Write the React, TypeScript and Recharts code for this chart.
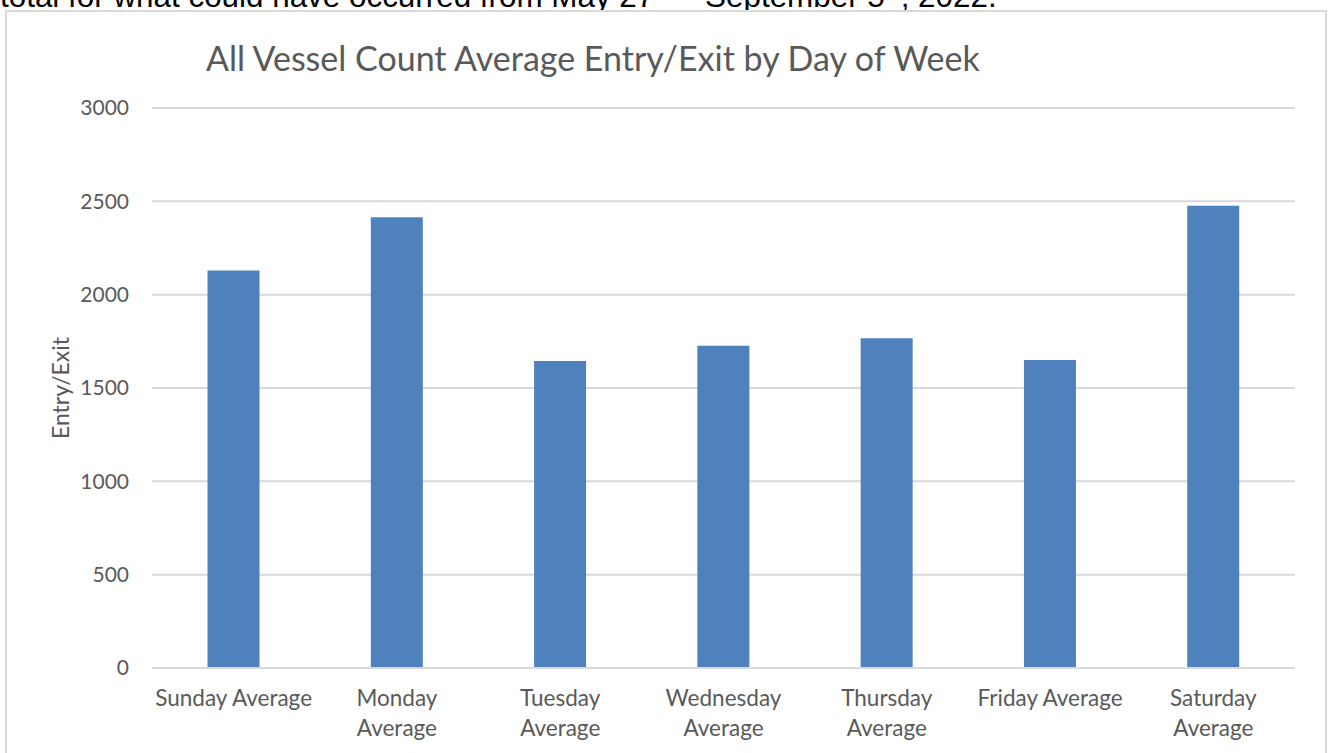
import { BarChart, Bar, XAxis, YAxis, CartesianGrid } from 'recharts'

const days = [
  'Sunday Average',
  'Monday Average',
  'Tuesday Average',
  'Wednesday Average',
  'Thursday Average',
  'Friday Average',
  'Saturday Average',
]
const entryExit = [2130, 2415, 1645, 1727, 1767, 1650, 2477]
const yTicks = [0, 500, 1000, 1500, 2000, 2500, 3000]

const data = days.map((day, i) => ({ day, value: entryExit[i] }))

const GREY = '#595959'
const FONT = 'Lato, "Open Sans", sans-serif'
const TICK_SIZE = 22.5

let probe: SVGTextElement | null = null
function textWidth(s: string) {
  if (!probe) {
    const ns = 'http://www.w3.org/2000/svg'
    const svg = document.createElementNS(ns, 'svg')
    svg.setAttribute('style', 'position:absolute;left:-9999px;top:0')
    probe = document.createElementNS(ns, 'text') as SVGTextElement
    probe.setAttribute('font-size', String(TICK_SIZE))
    probe.setAttribute('font-family', FONT)
    svg.appendChild(probe)
    document.body.appendChild(svg)
  }
  probe.textContent = s
  return probe.getComputedTextLength()
}

// Excel wraps a category label once it gets wider than the slot
function wrapLabel(s: string) {
  if (textWidth(s) <= 158) return [s]
  const i = s.lastIndexOf(' ')
  return i > 0 ? [s.slice(0, i), s.slice(i + 1)] : [s]
}

function DayTick(props: any) {
  const { x, y, payload } = props
  const lines = wrapLabel(String(payload.value))
  return (
    <text
      x={x}
      y={y}
      textAnchor="middle"
      fontSize={TICK_SIZE}
      fontFamily={FONT}
      fill={GREY}
    >
      {lines.map((l, i) => (
        <tspan key={i} x={x} dy={i === 0 ? 16 : 30}>
          {l}
        </tspan>
      ))}
    </text>
  )
}

function AxisTitle() {
  return (
    <text
      x={53}
      y={376}
      transform="rotate(-90 53 376)"
      textAnchor="middle"
      dominantBaseline="central"
      fontSize={23}
      fontFamily={FONT}
      fill={GREY}
    >
      Entry/Exit
    </text>
  )
}

const supStyle = { fontSize: 19, position: 'relative' as const, top: -11, verticalAlign: 'baseline' }

export default function App() {
  return (
    <div
      style={{
        position: 'fixed',
        left: 0,
        top: 0,
        width: 1330,
        height: 753,
        overflow: 'hidden',
        background: '#fff',
      }}
    >
      <div
        style={{
          position: 'absolute',
          left: 0,
          top: -19,
          fontFamily: '"Liberation Sans", Arial, sans-serif',
          fontSize: 31.4,
          lineHeight: '31px',
          whiteSpace: 'nowrap',
          color: '#000',
        }}
      >
        total for what could have occurred from May 27<sup style={supStyle}>th</sup> – September 5
        <sup style={supStyle}>th</sup>, 2022.
      </div>
      <div
        style={{
          position: 'absolute',
          left: 5,
          top: 10,
          width: 1318,
          height: 760,
          border: '2px solid #d9d9d9',
          background: '#fff',
        }}
      >
        <div
          style={{
            position: 'absolute',
            left: 199,
            top: 25,
            fontFamily: FONT,
            fontSize: 34,
            color: GREY,
            whiteSpace: 'nowrap',
          }}
        >
          All Vessel Count Average Entry/Exit by Day of Week
        </div>
        <BarChart
          width={1318}
          height={741}
          data={data}
          margin={{ top: 96, right: 30, bottom: 0, left: 0 }}
          barCategoryGap="34%"
        >
          <CartesianGrid vertical={false} stroke="#d9d9d9" strokeWidth={2} />
          <XAxis
            dataKey="day"
            height={85}
            interval={0}
            axisLine={{ stroke: '#d9d9d9', strokeWidth: 2 }}
            tickLine={false}
            tickSize={0}
            tickMargin={22}
            tick={<DayTick />}
          />
          <YAxis
            width={145}
            domain={[0, 3000]}
            ticks={yTicks}
            axisLine={false}
            tickLine={false}
            tickSize={0}
            tickMargin={23}
            tick={{ fill: GREY, fontSize: 21, fontFamily: FONT }}
            label={<AxisTitle />}
          />
          <Bar dataKey="value" fill="#4f81bd" isAnimationActive={false} />
        </BarChart>
      </div>
    </div>
  )
}
